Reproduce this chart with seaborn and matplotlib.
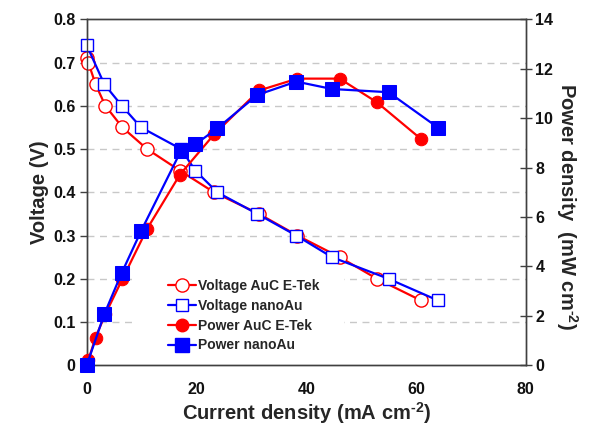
import matplotlib
matplotlib.use("Agg")
import matplotlib.pyplot as plt
import seaborn as sns
import pandas as pd
from matplotlib.lines import Line2D
from matplotlib.patches import Rectangle

# ---- data ----
current_auc = [0, 0.3, 1.6, 3.4, 6.5, 11.0, 17.0, 23.2, 31.4, 38.4, 46.1, 52.9, 60.9]
voltage_auc = [0.71, 0.70, 0.65, 0.60, 0.55, 0.50, 0.45, 0.40, 0.35, 0.30, 0.25, 0.20, 0.15]
power_auc = [0.0, 0.21, 1.12, 2.07, 3.49, 5.52, 7.72, 9.34, 11.12, 11.60, 11.60, 10.64, 9.16]

current_nano = [0, 3.2, 6.4, 9.9, 17.2, 19.8, 23.8, 31.1, 38.2, 44.7, 55.0, 64.0]
voltage_nano = [0.74, 0.65, 0.60, 0.55, 0.50, 0.45, 0.40, 0.35, 0.30, 0.25, 0.20, 0.15]
power_nano = [0.0, 2.07, 3.75, 5.43, 8.69, 8.94, 9.59, 10.94, 11.48, 11.18, 11.05, 9.62]

labels = ["Voltage AuC E-Tek", "Voltage nanoAu", "Power AuC E-Tek", "Power nanoAu"]
x_ticks = [0, 20, 40, 60, 80]
v_ticks = [0, 0.1, 0.2, 0.3, 0.4, 0.5, 0.6, 0.7, 0.8]
p_ticks = [0, 2, 4, 6, 8, 10, 12, 14]

sns.set_style("white")
plt.rcParams['font.family'] = ['Liberation Sans', 'DejaVu Sans']
plt.rcParams['font.weight'] = 'bold'
plt.rcParams['mathtext.fontset'] = 'custom'
plt.rcParams['mathtext.rm'] = 'Liberation Sans:bold'
plt.rcParams['mathtext.it'] = 'Liberation Sans:bold'
plt.rcParams['mathtext.bf'] = 'Liberation Sans:bold'

RED = "#ff0000"
BLUE = "#0000ff"
SPINE = "#404040"

fig = plt.figure(figsize=(5.94, 4.29), dpi=100)
ax = fig.add_axes([0.146, 0.1485, 0.739, 0.8065])
ax2 = ax.twinx()

df_va = pd.DataFrame({"I": current_auc, "V": voltage_auc})
df_vn = pd.DataFrame({"I": current_nano, "V": voltage_nano})
df_pa = pd.DataFrame({"I": current_auc, "P": power_auc})
df_pn = pd.DataFrame({"I": current_nano, "P": power_nano})

lw = 1.6
st = dict(
    va=dict(marker="o", markersize=9.5, markerfacecolor="white", markeredgecolor=RED, markeredgewidth=1.0),
    vn=dict(marker="s", markersize=8.5, markerfacecolor="white", markeredgecolor=BLUE, markeredgewidth=1.0),
    pa=dict(marker="o", markersize=9, markerfacecolor=RED, markeredgecolor=RED),
    pn=dict(marker="s", markersize=9.5, markerfacecolor=BLUE, markeredgecolor=BLUE),
)
sns.lineplot(data=df_va, x="I", y="V", ax=ax, sort=False, color=RED, lw=lw,
             clip_on=False, zorder=3, **st["va"])
sns.lineplot(data=df_vn, x="I", y="V", ax=ax, sort=False, color=BLUE, lw=lw,
             clip_on=False, zorder=4, **st["vn"])
sns.lineplot(data=df_pa, x="I", y="P", ax=ax2, sort=False, color=RED, lw=lw,
             clip_on=False, zorder=3, **st["pa"])
sns.lineplot(data=df_pn, x="I", y="P", ax=ax2, sort=False, color=BLUE, lw=lw,
             clip_on=False, zorder=4, **st["pn"])

ax.set_xlim(0, 80)
ax.set_ylim(0, 0.8)
ax2.set_ylim(0, 14)
ax.set_xticks(x_ticks)
ax.set_yticks(v_ticks)
ax.set_yticklabels(["0" if t == 0 else f"{t:.1f}" for t in v_ticks])
ax2.set_yticks(p_ticks)
ax.set_xticklabels([str(t) for t in x_ticks])

for t in v_ticks[1:-1]:
    ax.axhline(t, color="#c8c8c8", lw=1.0, ls=(0, (5, 4)), zorder=1)
# white legend background area hiding the grid lines
ax.add_patch(Rectangle((0.105, 0.012), 0.48, 0.31, transform=ax.transAxes,
                       facecolor="white", edgecolor="none", zorder=1.5))

for a in (ax, ax2):
    for s in a.spines.values():
        s.set_color(SPINE)
        s.set_linewidth(1.0)
    a.tick_params(colors="#111111", labelsize=11.5, width=1.0)
ax.tick_params(axis="y", direction="out", length=5, color=SPINE, pad=3)
ax.tick_params(axis="x", direction="out", length=5, color=SPINE, pad=7)
ax2.tick_params(axis="y", direction="inout", length=8, color=SPINE, pad=3)
for lab in ax.get_xticklabels() + ax.get_yticklabels() + ax2.get_yticklabels():
    lab.set_fontweight("bold")

ax.set_xlabel("Current density (mA cm$^{\u20102}$)", fontsize=14.5, fontweight="bold", labelpad=2)
ax.set_ylabel("Voltage (V)", fontsize=14.5, fontweight="bold", labelpad=3)
ax2.set_ylabel("Power density  (mW cm$^{\u20102}$)", fontsize=14.5, fontweight="bold",
               rotation=270, labelpad=19)
ax2.yaxis.label.set_y(0.46)

handles = [
    Line2D([], [], color=RED, lw=lw, **st["va"]),
    Line2D([], [], color=BLUE, lw=lw, **st["vn"]),
    Line2D([], [], color=RED, lw=lw, **st["pa"]),
    Line2D([], [], color=BLUE, lw=lw, **st["pn"]),
]
leg = ax2.legend(handles, labels, loc="lower left", bbox_to_anchor=(0.16, 0.005),
                 frameon=False, prop={"weight": "bold", "size": 10},
                 handlelength=2.0, handletextpad=0.15, labelspacing=0.42, borderpad=0.3)

fig.savefig("out.png", dpi=100)
